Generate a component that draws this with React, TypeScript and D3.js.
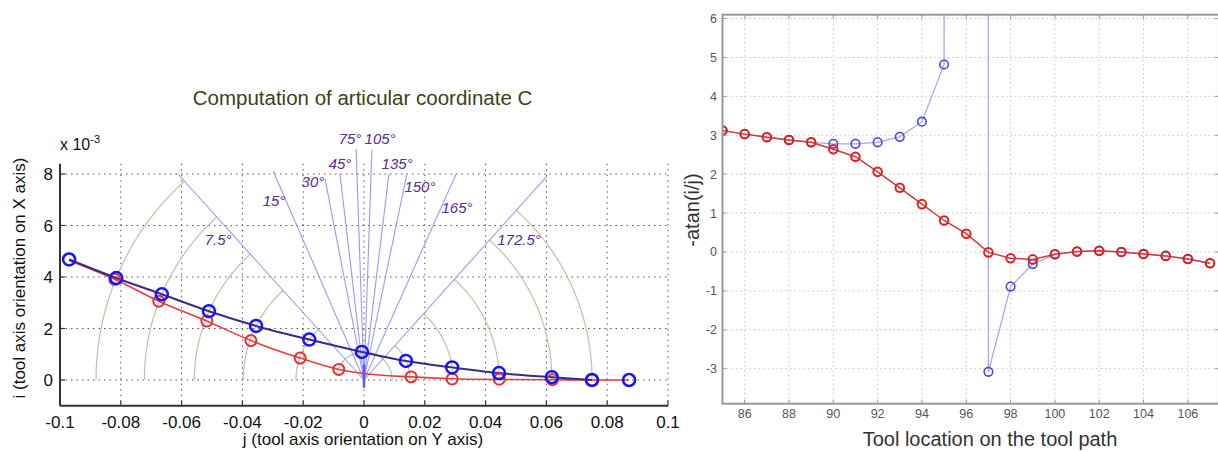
import React from 'react';
import * as d3 from 'd3';

const FONT = '"Liberation Sans", Arial, Helvetica, sans-serif';

// ---------- Left chart data ----------
const leftXTicks = [-0.1, -0.08, -0.06, -0.04, -0.02, 0, 0.02, 0.04, 0.06, 0.08, 0.1];
const leftXTickLabels = ['-0.1', '-0.08', '-0.06', '-0.04', '-0.02', '0', '0.02', '0.04', '0.06', '0.08', '0.1'];
const leftYTicks = [0, 2, 4, 6, 8];
const leftYTickLabels = ['0', '2', '4', '6', '8'];

// blue circles (j, i x1e-3)
const blueJ = [-0.097, -0.0815, -0.0665, -0.051, -0.0355, -0.018, -0.0007, 0.0138, 0.029, 0.0444, 0.0618, 0.075, 0.0872];
const blueI = [4.68, 3.96, 3.33, 2.67, 2.1, 1.57, 1.09, 0.74, 0.49, 0.27, 0.11, 0.0, 0.0];
// red circles
const redJ = [-0.082, -0.0675, -0.0517, -0.0372, -0.021, -0.0083, 0.0155, 0.029, 0.0445, 0.062, 0.075];
const redI = [3.91, 3.06, 2.29, 1.53, 0.85, 0.41, 0.12, 0.04, 0.03, 0.01, 0.0];
// red smooth curve
const redCurveJ = [-0.097, -0.082, -0.0675, -0.0517, -0.0372, -0.021, -0.0083, 0, 0.0155, 0.029, 0.0445, 0.062, 0.075, 0.0872];
const redCurveI = [4.64, 3.91, 3.06, 2.29, 1.53, 0.85, 0.41, 0.25, 0.12, 0.05, 0.02, 0.01, 0.0, 0.0];

// radial lines (C angles)
const rayLabels = ['7.5°', '15°', '30°', '45°', '75°', '105°', '135°', '150°', '165°', '172.5°'];
const rayEndJ = [-0.0612, -0.0299, -0.0128, -0.0079, -0.0026, 0.0026, 0.0082, 0.0141, 0.0303, 0.0602];
const rayEndI = [8.0, 8.12, 7.8, 8.0, 8.97, 8.93, 8.0, 8.0, 8.0, 7.92];
const rayLabelJ = [-0.048, -0.0296, -0.0168, -0.0079, -0.0046, 0.0053, 0.0109, 0.0184, 0.0306, 0.051];
const rayLabelI = [5.24, 6.76, 7.5, 8.19, 9.17, 9.17, 8.19, 7.3, 6.49, 5.24];

// arcs through blue circles: index of blue circle, and ending ray (index into rays) or fixed end angle
const arcBlueIdx = [1, 2, 3, 4, 5, 6, 7, 8, 9, 10, 11];

// ---------- Right chart data ----------
const toolLoc = [85, 86, 87, 88, 89, 90, 91, 92, 93, 94, 95, 96, 97, 98, 99, 100, 101, 102, 103, 104, 105, 106, 107];
const redAtan = [3.12, 3.03, 2.95, 2.88, 2.82, 2.64, 2.45, 2.06, 1.65, 1.23, 0.81, 0.47, -0.01, -0.16, -0.19, -0.06, 0.01, 0.03, 0.0, -0.05, -0.1, -0.18, -0.29];
const blueAtan = [3.12, 3.03, 2.95, 2.88, 2.82, 2.78, 2.78, 2.82, 2.96, 3.35, 4.82, 1000, -3.08, -0.89, -0.31, -0.06, 0.01, 0.03, 0.0, -0.05, -0.1, -0.18, -0.29];
const rightXTicks = [86, 88, 90, 92, 94, 96, 98, 100, 102, 104, 106];
const rightYTicks = [-3, -2, -1, 0, 1, 2, 3, 4, 5, 6];

export default function App() {
  // left scales
  const xL = d3.scaleLinear().domain([-0.1, 0.1]).range([60, 668]);
  const yL = d3.scaleLinear().domain([-1, 8.4]).range([405.75, 163.7]);
  const x0 = xL(0);
  const y0 = yL(0);

  const lineL = d3
    .line<[number, number]>()
    .x((d) => xL(d[0]))
    .y((d) => yL(d[1]))
    .curve(d3.curveMonotoneX);

  const bluePts: [number, number][] = blueJ.slice(0, 12).map((j, k) => [j, blueI[k]]);
  const redPts: [number, number][] = redCurveJ.map((j, k) => [j, redCurveI[k]]);

  const rayAngle = (k: number) => Math.atan2(y0 - yL(rayEndI[k]), xL(rayEndJ[k]) - x0);
  const leftEnd = rayAngle(0);
  const rightEnd = rayAngle(rayEndJ.length - 1);

  const arcs = arcBlueIdx.map((b) => {
    const px = xL(blueJ[b]);
    const py = yL(blueI[b]);
    const r = Math.hypot(px - x0, py - y0);
    let a0: number, a1: number;
    if (blueJ[b] < -0.005) {
      a0 = Math.PI;
      a1 = leftEnd;
    } else if (blueJ[b] < 0.005) {
      a0 = 0;
      a1 = (165 * Math.PI) / 180;
    } else {
      a0 = 0;
      a1 = rightEnd;
    }
    const n = 60;
    const pts: [number, number][] = [];
    for (let s = 0; s <= n; s++) {
      const a = a0 + ((a1 - a0) * s) / n;
      pts.push([x0 + r * Math.cos(a), y0 - r * Math.sin(a)]);
    }
    return d3.line()(pts) as string;
  });

  // right scales
  const xR = d3.scaleLinear().domain([85, 107.4]).range([722.5, 1218.9]);
  const yR = d3.scaleLinear().domain([-3.9, 6.1]).range([403.7, 14.7]);
  const lineR = d3
    .line<number>()
    .x((_, k) => xR(toolLoc[k]))
    .y((d) => yR(d));

  const rL = xR.range()[0];
  const rR = xR.range()[1];
  const rT = yR.range()[1];
  const rB = yR.range()[0];

  return (
    <svg
      width={1218}
      height={452}
      style={{ position: 'absolute', left: 0, top: 0, background: '#fff' }}
      fontFamily={FONT}
    >
      <defs>
        <clipPath id="clipR">
          <rect x={rL} y={rT} width={rR - rL} height={rB - rT} />
        </clipPath>
      </defs>
      <rect width={1218} height={452} fill="#fff" />

      {/* ================= LEFT CHART ================= */}
      <text x={362.5} y={105} textAnchor="middle" fontSize={20.5} fill="#3f3f17">
        Computation of articular coordinate C
      </text>

      {/* grid */}
      {leftXTicks.slice(1).map((t) => (
        <line key={'gx' + t} x1={xL(t)} x2={xL(t)} y1={yL(8.4)} y2={yL(-1)} stroke="#555" strokeWidth={1} strokeDasharray="1.5,4" />
      ))}
      {leftYTicks.map((t) => (
        <line key={'gy' + t} x1={xL(-0.1)} x2={xL(0.1)} y1={yL(t)} y2={yL(t)} stroke="#555" strokeWidth={1} strokeDasharray="1.5,4" />
      ))}

      {/* arcs */}
      {arcs.map((d, k) => (
        <path key={'arc' + k} d={d} fill="none" stroke="#c4c4ae" strokeWidth={1.3} />
      ))}

      {/* rays */}
      {rayEndJ.map((j, k) => (
        <line key={'ray' + k} x1={x0} y1={y0} x2={xL(j)} y2={yL(rayEndI[k])} stroke="#9a9af2" strokeWidth={1.1} />
      ))}
      <line x1={x0} x2={x0} y1={yL(-0.3)} y2={yL(0.6)} stroke="#5a5aec" strokeWidth={2.5} />

      {/* ray labels */}
      {rayLabels.map((l, k) => (
        <text key={'rl' + k} x={xL(rayLabelJ[k])} y={yL(rayLabelI[k])} textAnchor="middle" fontSize={15} fontStyle="italic" fill="#5b2d8e">
          {l}
        </text>
      ))}

      {/* curves */}
      <path d={lineL(redPts) as string} fill="none" stroke="#ec3b3b" strokeWidth={1.6} />
      <path d={lineL(bluePts) as string} fill="none" stroke="#3b2a8c" strokeWidth={2} />

      {redJ.map((j, k) => (
        <circle key={'rc' + k} cx={xL(j)} cy={yL(redI[k])} r={5.5} fill="none" stroke="#e03535" strokeWidth={2} />
      ))}
      {blueJ.map((j, k) => (
        <circle key={'bc' + k} cx={xL(j)} cy={yL(blueI[k])} r={6} fill="none" stroke="#1515f5" strokeWidth={2.5} />
      ))}

      {/* axes */}
      <line x1={xL(-0.1)} x2={xL(-0.1)} y1={yL(8.4)} y2={yL(-1)} stroke="#333" strokeWidth={2} />
      <line x1={xL(-0.1)} x2={xL(0.1)} y1={yL(-1)} y2={yL(-1)} stroke="#333" strokeWidth={2} />
      {leftXTicks.map((t, k) => (
        <g key={'xt' + t}>
          <line x1={xL(t)} x2={xL(t)} y1={yL(-1)} y2={yL(-1) - 5} stroke="#333" strokeWidth={1.2} />
          <text x={xL(t)} y={428} textAnchor="middle" fontSize={17} fill="#111">
            {leftXTickLabels[k]}
          </text>
        </g>
      ))}
      {leftYTicks.map((t, k) => (
        <g key={'yt' + t}>
          <line x1={xL(-0.1)} x2={xL(-0.1) + 5} y1={yL(t)} y2={yL(t)} stroke="#333" strokeWidth={1.2} />
          <text x={53} y={yL(t) + 6} textAnchor="end" fontSize={17} fill="#111">
            {leftYTickLabels[k]}
          </text>
        </g>
      ))}
      <text x={60} y={150} fontSize={16} fill="#111">
        x 10<tspan dy={-7} fontSize={11}>-3</tspan>
      </text>
      <text x={363} y={445} textAnchor="middle" fontSize={17} fill="#111">
        j (tool axis orientation on Y axis)
      </text>
      <text transform="translate(25,278) rotate(-90)" textAnchor="middle" fontSize={17} fill="#111">
        i (tool axis orientation on X axis)
      </text>

      {/* ================= RIGHT CHART ================= */}
      {rightXTicks.map((t) => (
        <line key={'rgx' + t} x1={xR(t)} x2={xR(t)} y1={rT} y2={rB} stroke="#c4c4c4" strokeWidth={1} strokeDasharray="1.5,3" />
      ))}
      {rightYTicks.map((t) => (
        <line key={'rgy' + t} x1={rL} x2={rR} y1={yR(t)} y2={yR(t)} stroke="#c4c4c4" strokeWidth={1} strokeDasharray="1.5,3" />
      ))}

      <g clipPath="url(#clipR)">
        <path d={lineR(blueAtan) as string} fill="none" stroke="#a8a8f0" strokeWidth={1.3} />
        {blueAtan.map((v, k) => (
          <circle key={'rb' + k} cx={xR(toolLoc[k])} cy={yR(v)} r={4.3} fill="none" stroke="#4848dc" strokeWidth={1.6} />
        ))}
        <path d={lineR(redAtan) as string} fill="none" stroke="#d43a3a" strokeWidth={1.5} />
        {redAtan.map((v, k) => (
          <circle key={'rr' + k} cx={xR(toolLoc[k])} cy={yR(v)} r={4.3} fill="none" stroke="#e01f1f" strokeWidth={2} />
        ))}
      </g>

      {/* frame */}
      <rect x={rL} y={rT} width={rR - rL} height={rB - rT} fill="none" stroke="#999" strokeWidth={2} />
      {rightXTicks.map((t) => (
        <g key={'rxt' + t}>
          <line x1={xR(t)} x2={xR(t)} y1={rB} y2={rB - 4} stroke="#999" />
          <line x1={xR(t)} x2={xR(t)} y1={rT} y2={rT + 4} stroke="#999" />
          <text x={xR(t)} y={418} textAnchor="middle" fontSize={12.5} fill="#555">
            {t}
          </text>
        </g>
      ))}
      {rightYTicks.map((t) => (
        <g key={'ryt' + t}>
          <line x1={rL} x2={rL + 4} y1={yR(t)} y2={yR(t)} stroke="#999" />
          <line x1={rR - 4} x2={rR} y1={yR(t)} y2={yR(t)} stroke="#999" />
          <text x={717} y={yR(t) + 4.5} textAnchor="end" fontSize={12.5} fill="#555">
            {t}
          </text>
        </g>
      ))}
      <text transform="translate(699,210) rotate(-90)" textAnchor="middle" fontSize={20} fill="#333">
        -atan(i/j)
      </text>
      <text x={990} y={446} textAnchor="middle" fontSize={20} fill="#333">
        Tool location on the tool path
      </text>
    </svg>
  );
}
